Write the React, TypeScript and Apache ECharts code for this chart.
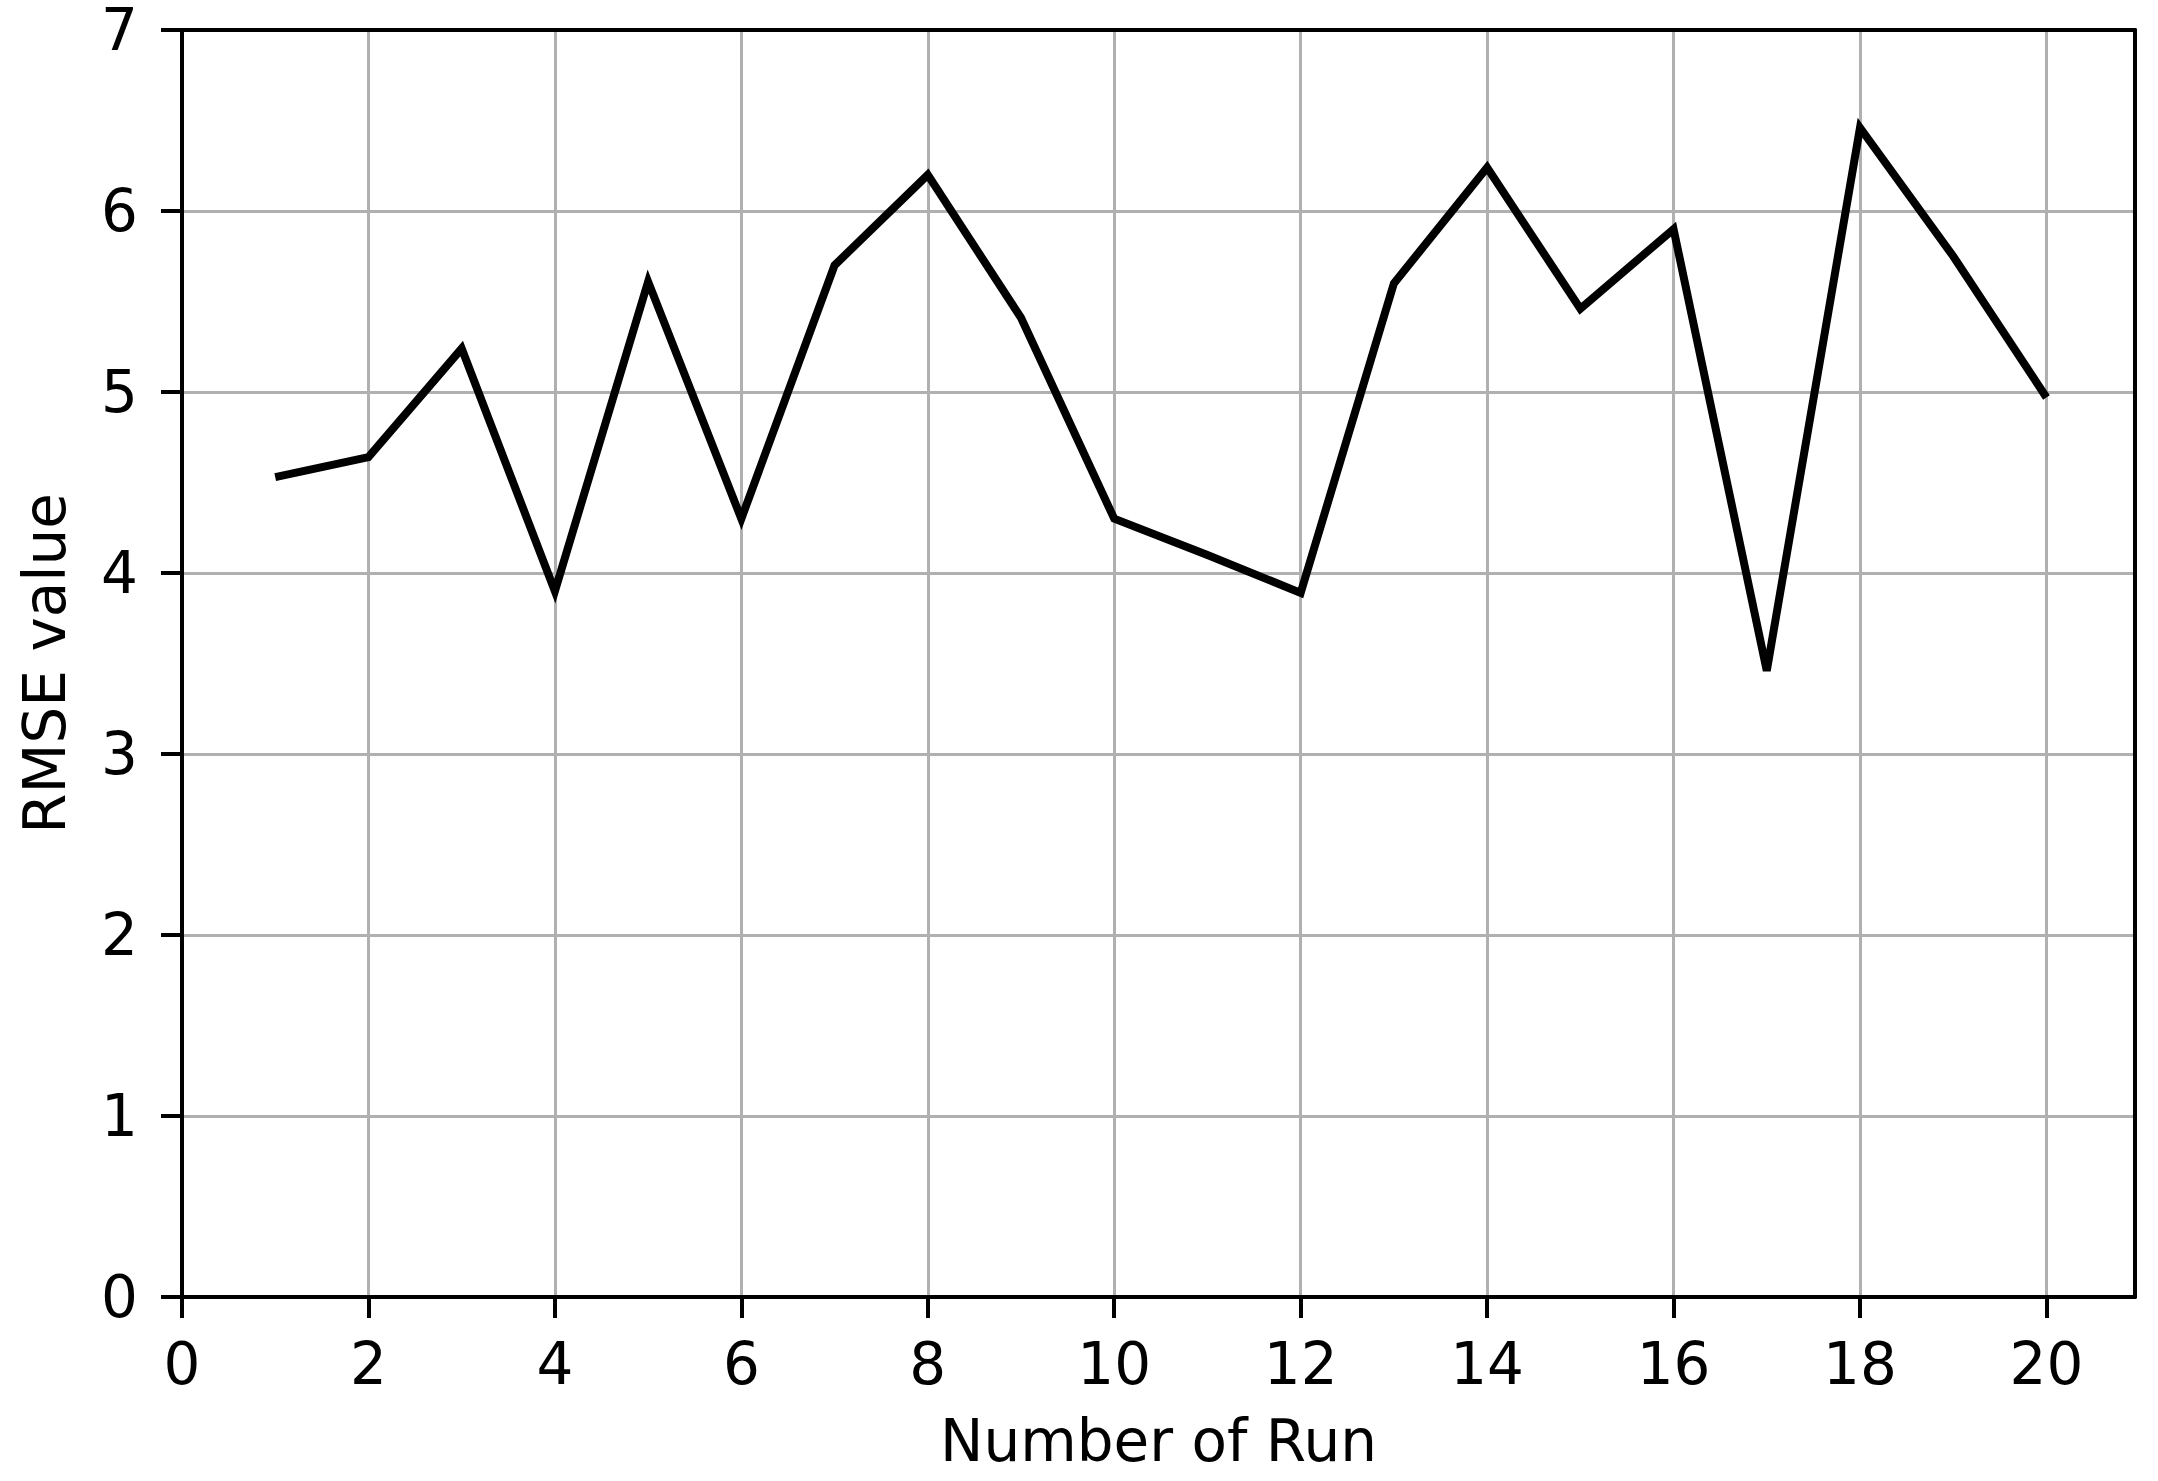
import React, { useEffect, useRef } from "react";
import * as echarts from "echarts";

const runs = [1, 2, 3, 4, 5, 6, 7, 8, 9, 10, 11, 12, 13, 14, 15, 16, 17, 18, 19, 20];
const rmse = [4.53, 4.64, 5.24, 3.9, 5.61, 4.3, 5.7, 6.2, 5.41, 4.3, 4.1, 3.89, 5.6, 6.24, 5.46, 5.9, 3.46, 6.46, 5.75, 4.97];
const xTicks = [0, 2, 4, 6, 8, 10, 12, 14, 16, 18, 20];
const yTicks = [0, 1, 2, 3, 4, 5, 6, 7];

export default function App() {
  const ref = useRef<HTMLDivElement>(null);
  useEffect(() => {
    if (!ref.current) return;
    const chart = echarts.init(ref.current, null, { renderer: "svg" });
    const font = "DejaVu Sans";
    const fs = 58;
    const axisW = 4;
    chart.setOption({
      animation: false,
      backgroundColor: "#ffffff",
      grid: { left: 182, top: 30, right: 23, bottom: 184 },
      xAxis: [
        {
          type: "value",
          min: 0,
          max: 20.95,
          interval: 2,
          name: "Number of Run",
          nameLocation: "middle",
          nameGap: 115,
          nameTextStyle: { fontFamily: font, fontSize: fs, color: "#000" },
          axisLine: { show: true, onZero: false, lineStyle: { color: "#000", width: axisW } },
          axisTick: { show: true, length: 21, customValues: xTicks, lineStyle: { color: "#000", width: axisW } },
          axisLabel: { customValues: xTicks, margin: 38, fontFamily: font, fontSize: fs, color: "#000" },
          splitLine: { show: true, lineStyle: { color: "#b0b0b0", width: 3 } },
          z: 3,
        },
        {
          type: "value",
          position: "top",
          min: 0,
          max: 20.95,
          axisLine: { show: true, onZero: false, lineStyle: { color: "#000", width: axisW } },
          axisTick: { show: false },
          axisLabel: { show: false },
          splitLine: { show: false },
          z: 4,
        },
      ],
      yAxis: [
        {
          type: "value",
          min: 0,
          max: 7,
          interval: 1,
          name: "RMSE value",
          nameLocation: "middle",
          nameGap: 108,
          nameTextStyle: { fontFamily: font, fontSize: fs, color: "#000" },
          axisLine: { show: true, onZero: false, lineStyle: { color: "#000", width: axisW } },
          axisTick: { show: true, length: 21, lineStyle: { color: "#000", width: axisW } },
          axisLabel: { margin: 44, fontFamily: font, fontSize: fs, color: "#000", formatter: (v: number) => (yTicks.includes(v) ? String(v) : "") },
          splitLine: { show: true, lineStyle: { color: "#b0b0b0", width: 3 } },
          z: 3,
        },
        {
          type: "value",
          position: "right",
          min: 0,
          max: 7,
          axisLine: { show: true, onZero: false, lineStyle: { color: "#000", width: axisW } },
          axisTick: { show: false },
          axisLabel: { show: false },
          splitLine: { show: false },
          z: 4,
        },
      ],
      series: [
        {
          type: "line",
          xAxisIndex: 0,
          yAxisIndex: 0,
          data: runs.map((r, i) => [r, rmse[i]]),
          showSymbol: false,
          lineStyle: { color: "#000", width: 8, join: "miter", cap: "butt" },
          z: 5,
        },
      ],
    });
    return () => chart.dispose();
  }, []);
  return <div ref={ref} style={{ position: "absolute", left: 0, top: 0, width: 2158, height: 1481 }} />;
}
